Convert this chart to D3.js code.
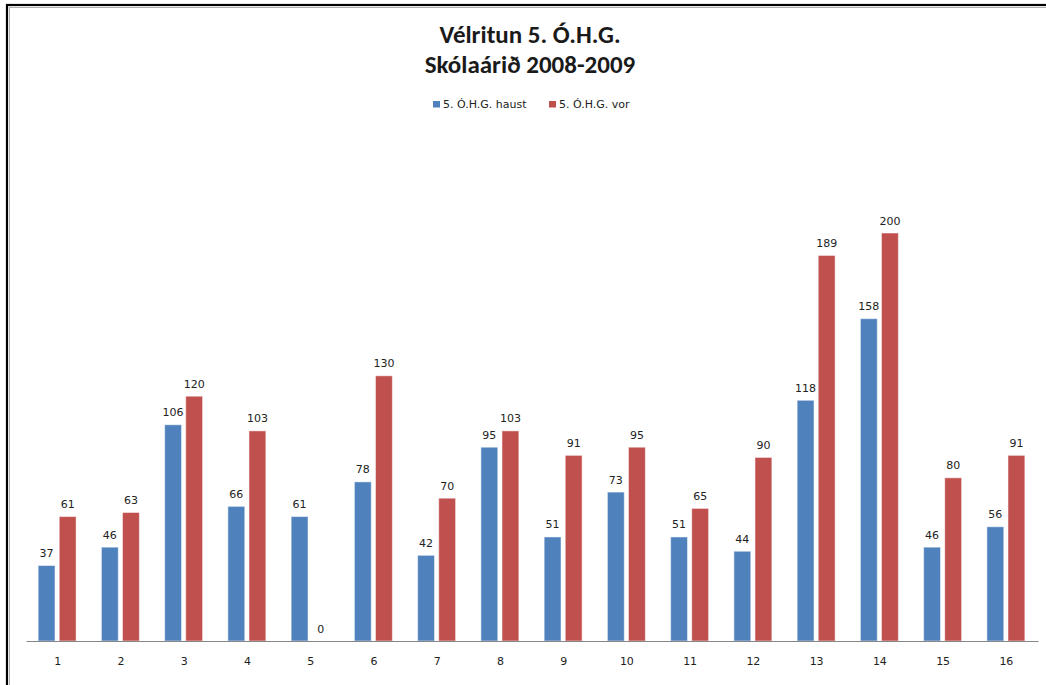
<!DOCTYPE html>
<html><head><meta charset="utf-8">
<script src="https://cdn.jsdelivr.net/npm/d3@7"></script>
<style>body{margin:0;background:#fff}svg{display:block}text{font-family:"DejaVu Sans",sans-serif}</style>
</head><body><svg id="c" width="1046" height="685"></svg>
<script>
const categories = ["1","2","3","4","5","6","7","8","9","10","11","12","13","14","15","16"];
const seriesNames = ["5. Ó.H.G. haust", "5. Ó.H.G. vor"];
const haust = [37,46,106,66,61,78,42,95,51,73,51,44,118,158,46,56];
const vor = [61,63,120,103,0,130,70,103,91,95,65,90,189,200,80,91];
const colors = ["#4F81BD", "#C0504D"];
const titleLines = ["Vélritun 5. Ó.H.G.", "Skólaárið 2008-2009"];

const svg = d3.select("#c");
// frame
svg.append("rect").attr("x",7).attr("y",5).attr("width",1100).attr("height",800)
  .attr("fill","none").attr("stroke","#000").attr("stroke-width",2.2);
svg.append("rect").attr("x",9.5).attr("y",7.5).attr("width",1100).attr("height",800)
  .attr("fill","none").attr("stroke","#b0b0b0").attr("stroke-width",1);

const x0 = d3.scaleBand().domain(categories).range([25,1037]).paddingInner(0.4).paddingOuter(0.2);
const x1 = d3.scaleBand().domain([0,1]).range([0,x0.bandwidth()]).paddingInner(0.2);
const y = d3.scaleLinear().domain([0,250]).range([641,131]);

const series = [haust, vor];
const g = svg.append("g").attr("transform","translate(0.5,0)");
series.forEach((vals, si) => {
  g.selectAll(null).data(vals).enter().append("rect")
    .attr("x",(d,i)=>x0(categories[i])+x1(si))
    .attr("y",d=>y(d))
    .attr("width",x1.bandwidth())
    .attr("height",d=>y(0)-y(d))
    .attr("fill",colors[si])
    .attr("stroke","#ffffff").attr("stroke-opacity",0.5).attr("stroke-width",1);
  g.selectAll(null).data(vals).enter().append("text")
    .attr("x",(d,i)=>x0(categories[i])+x1(si)+x1.bandwidth()/2)
    .attr("y",d=>y(d)-8.5)
    .attr("text-anchor","middle").attr("font-size",11).attr("fill","#222")
    .text(d=>d);
});

const xAxis = d3.axisBottom(x0).tickSize(0).tickPadding(16);
const ax = svg.append("g").attr("transform","translate(1,641)").call(xAxis);
ax.select(".domain").attr("stroke","#868686").attr("stroke-width",1.2);
ax.selectAll("text").attr("font-size",11).attr("fill","#222").style("font-family","'DejaVu Sans',sans-serif");

// title
svg.selectAll(".title").data(titleLines).enter().append("text")
  .attr("x",530).attr("y",(d,i)=>43+i*30).attr("text-anchor","middle")
  .style("font-family","Carlito,Lato,sans-serif")
  .attr("font-size",25).attr("font-weight","bold").attr("fill","#1a1a1a").text(d=>d);

// legend
const legX = [433, 549];
seriesNames.forEach((n,i)=>{
  svg.append("rect").attr("x",legX[i]).attr("y",101).attr("width",7).attr("height",6.5).attr("fill",colors[i]);
  svg.append("text").attr("x",legX[i]+10).attr("y",108).attr("font-size",11).attr("fill","#222")
    .text(n);
});
</script></body></html>
